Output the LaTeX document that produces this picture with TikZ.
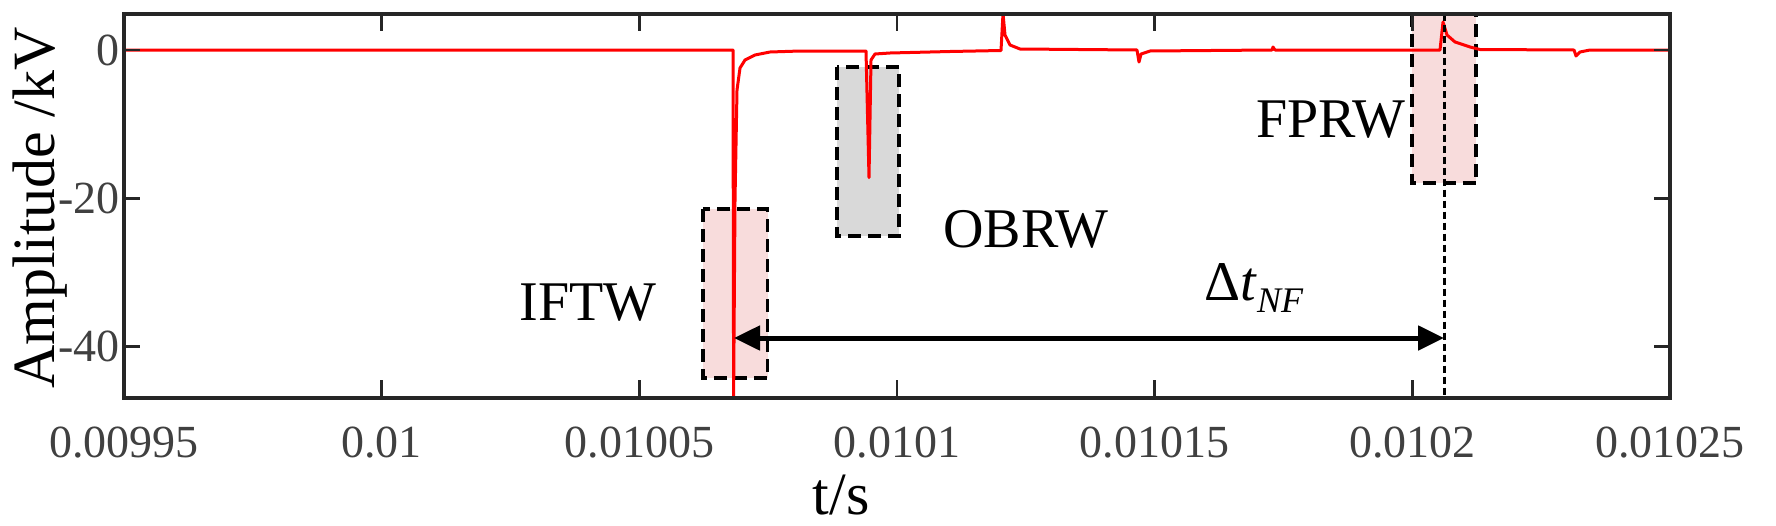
\documentclass[tikz,border=0pt]{standalone}
\usepackage{fontspec}
\setmainfont{Liberation Serif}
\newfontfamily\tms{Liberation Serif}
\usetikzlibrary{arrows.meta}
\definecolor{pinkfill}{HTML}{F8DCDC}
\definecolor{grayfill}{HTML}{D9D9D9}
\definecolor{axcol}{HTML}{262626}
\definecolor{ticklab}{HTML}{404040}
\tikzset{
  winbox/.style={draw=black,line width=3.5pt,dash pattern=on 13pt off 7pt},
  ticklabel/.style={text=ticklab,font=\tms\fontsize{46}{50}\selectfont,inner sep=0pt},
  biglabel/.style={font=\tms\fontsize{56}{60}\selectfont,inner sep=0pt},
  axlabel/.style={font=\tms\fontsize{60}{64}\selectfont,inner sep=0pt},
  signal/.style={red,line width=3pt,line join=round},
}
\begin{document}
\begin{tikzpicture}[x=1pt,y=-1pt]
\useasboundingbox (0,0) rectangle (1776,525);
% windows
\fill[pinkfill] (703,209) rectangle (767.5,378);
\draw[winbox] (703,209) rectangle (767.5,378);
\fill[grayfill] (837,67) rectangle (899,236);
\draw[winbox] (837,67) rectangle (899,236);
\fill[pinkfill] (1412,13.5) rectangle (1476,183);
\draw[winbox] (1412,13.5) rectangle (1476,183);
% signal
\draw[signal] (124,50) -- (733,50) -- (733.6,398) -- (735,200) -- (737,90) -- (740,68) -- (745,60) -- (755,55) -- (770,52) -- (800,51) -- (866,51) -- (869,177.7) -- (871,60) -- (875,54) -- (890,53) -- (950,51.5) -- (1001,50.5) -- (1003,13.5) -- (1005,35) -- (1010,45) -- (1020,49) -- (1137,50) -- (1139,62) -- (1141,54) -- (1150,51) -- (1272,50) -- (1273,47) -- (1275,50) -- (1440,50) -- (1443,22) -- (1447,35) -- (1455,42) -- (1470,47) -- (1480,49.5) -- (1574,50) -- (1576,56) -- (1580,52) -- (1590,50) -- (1670,50);
% marker line and arrow
\coordinate (fpTop) at (1444,13.5);
\coordinate (fpBot) at (1444,398);
\coordinate (aL) at (734,338);
\coordinate (aR) at (1444,338);
\draw[black,line width=3pt,dash pattern=on 7pt off 4pt] (fpTop) -- (fpBot);
\draw[line width=5pt,{Triangle[length=26pt,width=24pt]}-{Triangle[length=26pt,width=24pt]}] (aL) -- (aR);
% axes frame
\draw[axcol,line width=4pt] (124,13.5) rectangle (1670,398);
\foreach \i/\lab in {0/0.00995,1/0.01,2/0.01005,3/0.0101,4/0.01015,5/0.0102,6/0.01025}{
  \pgfmathsetmacro{\xx}{124+257.67*\i}
  \draw[axcol,line width=2.5pt] (\xx,13.5) -- (\xx,31);
  \draw[axcol,line width=2.5pt] (\xx,398) -- (\xx,380);
  \node[ticklabel] (xt\i) at (\xx,443) {\lab};
}
\foreach \v/\lab in {0/0,1/-20,2/-40}{
  \pgfmathsetmacro{\yy}{50+148.3*\v}
  \draw[axcol,line width=2.5pt] (124,\yy) -- (140,\yy);
  \draw[axcol,line width=2.5pt] (1670,\yy) -- (1654,\yy);
  \node[ticklabel,anchor=east] (yt\v) at (120,\yy) {\lab};
}
% labels
\node[biglabel] (iftw) at (588,303) {IFTW};
\node[biglabel] (obrw) at (1026,229) {OBRW};
\node[biglabel] (fprw) at (1331,120) {FPRW};
\node[biglabel] (dt) at (1254,288) {Δ\textit{t}\raisebox{-0.2em}{\fontsize{36}{40}\selectfont\textit{NF}}};
\node[axlabel,rotate=90] (ylab) at (40,208) {Amplitude /kV};
\node[axlabel] (xlab) at (841,495) {t/s};
\end{tikzpicture}
\end{document}
